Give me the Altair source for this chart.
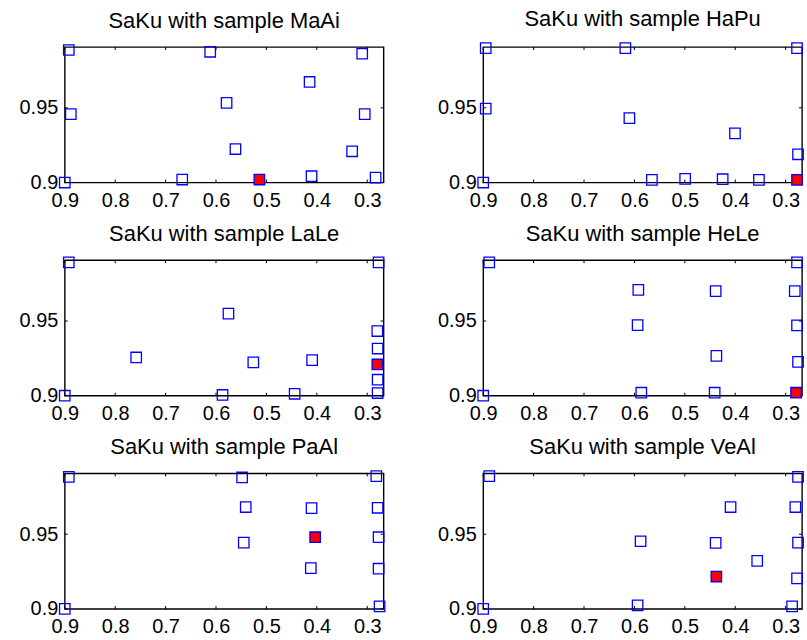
import altair as alt
import pandas as pd

FONT = "Liberation Sans"

TITLES = ["SaKu with sample MaAi", "SaKu with sample HaPu",
          "SaKu with sample LaLe", "SaKu with sample HeLe",
          "SaKu with sample PaAl", "SaKu with sample VeAl"]

# hollow (blue) points per panel
X1 = [0.892, 0.888, 0.900, 0.667, 0.6115, 0.579, 0.5614, 0.4144, 0.4105, 0.330, 0.310, 0.305, 0.2834]
Y1 = [0.9887, 0.9458, 0.900, 0.902, 0.9875, 0.9533, 0.9224, 0.9673, 0.9042, 0.9209, 0.9862, 0.9458, 0.9033]
X2 = [0.895, 0.895, 0.900, 0.618, 0.610, 0.5654, 0.4994, 0.425, 0.4006, 0.353, 0.2775, 0.2755]
Y2 = [0.990, 0.9495, 0.900, 0.990, 0.9431, 0.9018, 0.9024, 0.9022, 0.9329, 0.9018, 0.990, 0.9189]
X3 = [0.892, 0.900, 0.7583, 0.587, 0.5753, 0.526, 0.444, 0.4093, 0.2775, 0.280, 0.2794, 0.2794, 0.2794]
Y3 = [0.9893, 0.900, 0.9256, 0.9005, 0.955, 0.9223, 0.9013, 0.9238, 0.9893, 0.9433, 0.9316, 0.9107, 0.9018]
X4 = [0.888, 0.900, 0.5923, 0.5937, 0.5864, 0.4389, 0.4375, 0.4409, 0.2775, 0.282, 0.2775, 0.2755]
Y4 = [0.9893, 0.900, 0.9709, 0.9473, 0.902, 0.970, 0.9267, 0.902, 0.9893, 0.970, 0.9471, 0.9227]
X5 = [0.892, 0.900, 0.5482, 0.541, 0.5449, 0.4105, 0.4119, 0.282, 0.2794, 0.2775, 0.2775, 0.2755]
Y5 = [0.9884, 0.900, 0.988, 0.9682, 0.9444, 0.9675, 0.9273, 0.9889, 0.9677, 0.948, 0.9269, 0.9017]
X6 = [0.888, 0.900, 0.5878, 0.5937, 0.4389, 0.4093, 0.3565, 0.2755, 0.2808, 0.2755, 0.2775, 0.2873]
Y6 = [0.9889, 0.900, 0.9453, 0.9024, 0.9442, 0.9682, 0.9322, 0.9884, 0.9682, 0.9444, 0.9204, 0.9017]

# highlighted (red) point per panel
RED_X = [0.514, 0.2775, 0.280, 0.2794, 0.4033, 0.4375]
RED_Y = [0.902, 0.9018, 0.9209, 0.902, 0.948, 0.9217]

XTICKS = [0.9, 0.8, 0.7, 0.6, 0.5, 0.4, 0.3]
YTICKS = [0.9, 0.95]
XDOM = [0.2676, 0.9]
YDOM = [0.9, 0.9907]

W, H = 320, 136
BLUE = "#0000ff"

xs_all = [X1, X2, X3, X4, X5, X6]
ys_all = [Y1, Y2, Y3, Y4, Y5, Y6]

xscale = alt.Scale(domain=XDOM, reverse=True, nice=False, zero=False)
yscale = alt.Scale(domain=YDOM, nice=False, zero=False)

XAX = alt.Axis(values=XTICKS, format=".1f", title=None, grid=False, domain=False,
               ticks=False, labelPadding=8, labelFontSize=20, labelFont=FONT,
               labelColor="black", labelFlush=False, labelOverlap=False)
YAX = alt.Axis(values=YTICKS, format=".2~f", title=None, grid=False, domain=False,
               ticks=False, labelPadding=7, labelFontSize=20, labelFont=FONT,
               labelColor="black", labelFlush=False, labelOverlap=False)

xt = pd.DataFrame({"t": XTICKS})
yt = pd.DataFrame({"t": YTICKS})


def panel(i):
    df = pd.DataFrame({"x": xs_all[i], "y": ys_all[i]})
    red = pd.DataFrame({"x": [RED_X[i]], "y": [RED_Y[i]]})
    pts = alt.Chart(df).mark_point(shape="square", filled=False, color=BLUE,
                                   size=110, strokeWidth=1.3, opacity=1).encode(
        x=alt.X("x:Q", scale=xscale, axis=XAX),
        y=alt.Y("y:Q", scale=yscale, axis=YAX),
    )
    redpt = alt.Chart(red).mark_point(shape="square", filled=True, fill="#ff0000",
                                      stroke=BLUE, size=110, strokeWidth=1.3,
                                      opacity=1, fillOpacity=1).encode(
        x=alt.X("x:Q", scale=xscale, axis=XAX),
        y=alt.Y("y:Q", scale=yscale, axis=YAX),
    )
    tick_top = alt.Chart(xt).mark_rule(color="black", strokeWidth=1).encode(
        x=alt.X("t:Q", scale=xscale, axis=XAX), y=alt.value(0), y2=alt.value(3))
    tick_bot = alt.Chart(xt).mark_rule(color="black", strokeWidth=1).encode(
        x=alt.X("t:Q", scale=xscale, axis=XAX), y=alt.value(H), y2=alt.value(H - 3))
    tick_l = alt.Chart(yt).mark_rule(color="black", strokeWidth=1).encode(
        y=alt.Y("t:Q", scale=yscale, axis=YAX), x=alt.value(0), x2=alt.value(3))
    tick_r = alt.Chart(yt).mark_rule(color="black", strokeWidth=1).encode(
        y=alt.Y("t:Q", scale=yscale, axis=YAX), x=alt.value(W), x2=alt.value(W - 3))
    return alt.layer(pts, tick_top, tick_bot, tick_l, tick_r, redpt).properties(
        width=W, height=H,
        title=alt.TitleParams(TITLES[i], fontSize=22, font=FONT, fontWeight="normal",
                              color="black", frame="group", anchor="middle", offset=9),
    )


chart = alt.concat(*[panel(i) for i in range(6)], columns=2,
                   spacing={"row": 78, "column": 100}, bounds="flush").properties(
    padding={"left": 18, "top": 6, "right": 0, "bottom": 0},
    background="white",
).configure_view(stroke="black", strokeWidth=1.4)

chart.save("out.html", embed_options={"renderer": "svg", "actions": False})
